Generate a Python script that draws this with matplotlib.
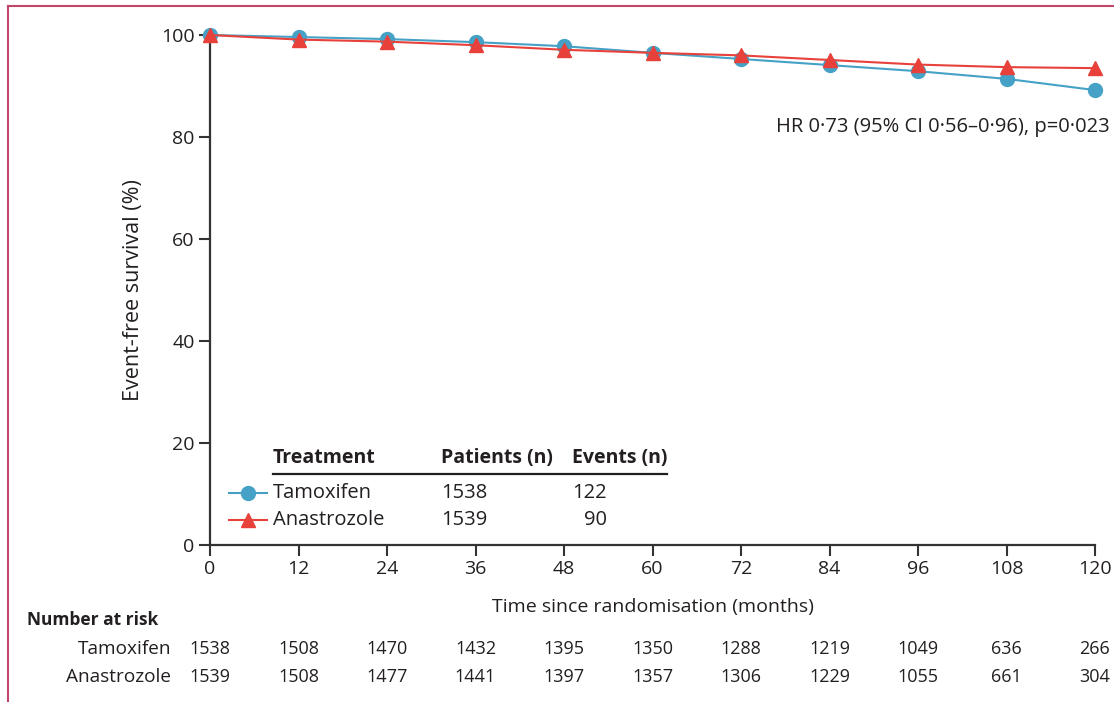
import matplotlib.pyplot as plt
from matplotlib.lines import Line2D

plt.rcParams['font.family'] = ['Open Sans', 'DejaVu Sans']

months = [0, 12, 24, 36, 48, 60, 72, 84, 96, 108, 120]
tamoxifen = [100, 99.6, 99.2, 98.6, 97.8, 96.5, 95.3, 94.1, 92.9, 91.4, 89.2]
anastrozole = [100, 99.1, 98.7, 98.0, 97.1, 96.5, 96.0, 95.1, 94.2, 93.7, 93.5]

groups = ['Tamoxifen', 'Anastrozole']
patients = [1538, 1539]
events = [122, 90]
at_risk_tam = [1538, 1508, 1470, 1432, 1395, 1350, 1288, 1219, 1049, 636, 266]
at_risk_ana = [1539, 1508, 1477, 1441, 1397, 1357, 1306, 1229, 1055, 661, 304]

W, H = 1114, 702
blue = '#45a2c6'
red = '#e8413b'
ink = '#231f20'
spine_c = '#333333'

fig = plt.figure(figsize=(W / 100, H / 100), dpi=100)
ax = fig.add_axes([210 / W, 1 - 545 / H, 885 / W, 510 / H])


def fx(px):
    return px / W


def fy(py):
    return 1 - py / H


ax.plot(months, tamoxifen, color=blue, lw=1.5, marker='o', ms=10,
        mec=blue, clip_on=False, zorder=3)
ax.plot(months, anastrozole, color=red, lw=1.5, marker='^', ms=10,
        mec=red, clip_on=False, zorder=4)

ax.set_xlim(0, 120)
ax.set_ylim(0, 100)
ax.set_xticks(months)
ax.set_yticks([0, 20, 40, 60, 80, 100])
for s in ['top', 'right']:
    ax.spines[s].set_visible(False)
for s in ['left', 'bottom']:
    ax.spines[s].set_color(spine_c)
    ax.spines[s].set_linewidth(1.6)
ax.tick_params(axis='both', direction='out', length=8, width=1.5,
               color=spine_c, labelsize=14, labelcolor=ink, pad=3)

ax.set_ylabel('Event-free survival (%)', fontsize=15.5, color=ink, labelpad=12)
ax.set_xlabel('Time since randomisation (months)', fontsize=14, color=ink,
              labelpad=14)

fig.text(fx(1110), fy(127), 'HR 0·73 (95% CI 0·56–0·96), p=0·023',
         ha='right', va='center', fontsize=14.5, color=ink)

# treatment table inside the plot
for label, px in [('Treatment', 273), ('Patients (n)', 441), ('Events (n)', 572)]:
    fig.text(fx(px), fy(458), label, ha='left', va='center',
             fontsize=14, fontweight='bold', color=ink)
fig.add_artist(Line2D([fx(273), fx(667)], [fy(474), fy(474)],
                      transform=fig.transFigure, color=ink, lw=1.6))

row_y = [493, 520]
styles = [(blue, 'o'), (red, '^')]
for name, n, ev, ry, (c, m) in zip(groups, patients, events, row_y, styles):
    fig.add_artist(Line2D([fx(229), fx(248), fx(267)], [fy(ry)] * 3,
                          transform=fig.transFigure, color=c, lw=1.5,
                          marker=m, ms=10, mec=c, markevery=[1]))
    fig.text(fx(273), fy(ry), name, ha='left', va='center',
             fontsize=14.5, color=ink)
    fig.text(fx(441), fy(ry), str(n), ha='left', va='center',
             fontsize=14.5, color=ink)
    fig.text(fx(607), fy(ry), str(ev), ha='right', va='center',
             fontsize=14.5, color=ink)

# number at risk table
fig.text(fx(27), fy(620), 'Number at risk', ha='left', va='center',
         fontsize=12.5, fontweight='bold', color=ink)
for name, counts, ry in zip(groups, [at_risk_tam, at_risk_ana], [649, 677]):
    fig.text(fx(171), fy(ry), name, ha='right', va='center',
             fontsize=13.7, color=ink)
    for m, cnt in zip(months, counts):
        xd = ax.transData.transform((m, 0))[0] / fig.bbox.width
        fig.text(xd, fy(ry), str(cnt), ha='center', va='center',
                 fontsize=13, color=ink)

# page frame
frame_c = '#c2466a'
fig.add_artist(Line2D([fx(8), 1], [fy(6), fy(6)], transform=fig.transFigure,
                      color=frame_c, lw=1.5))
fig.add_artist(Line2D([fx(8), fx(8)], [fy(6), 0], transform=fig.transFigure,
                      color=frame_c, lw=1.5))

fig.savefig('out.png', dpi=100)
